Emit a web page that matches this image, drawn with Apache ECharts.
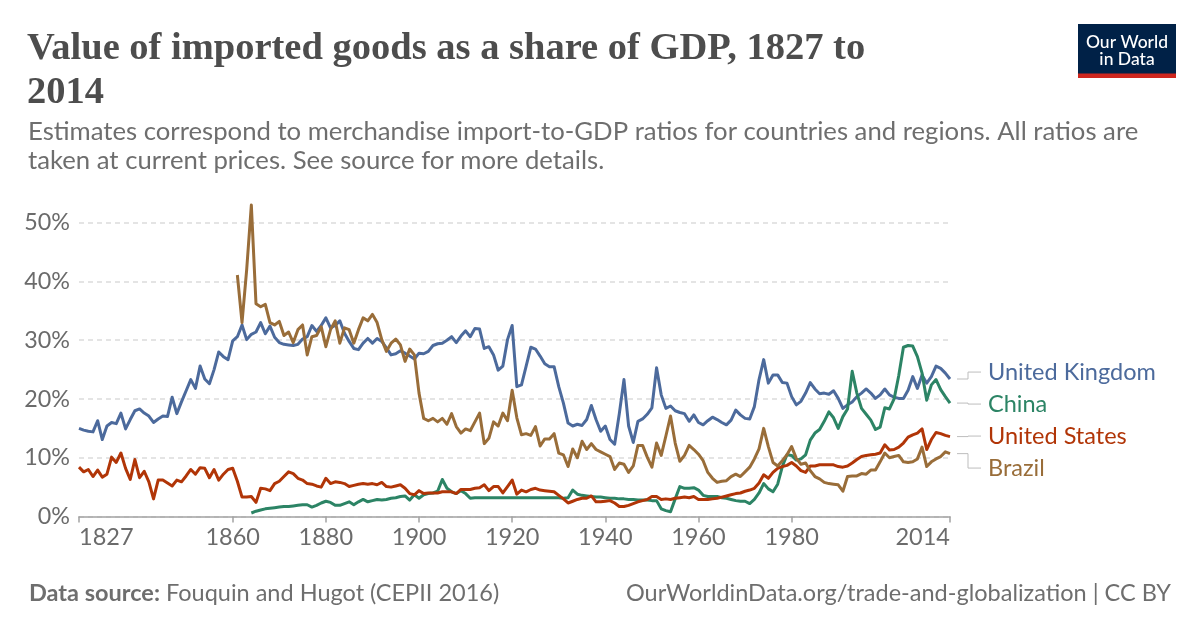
<!DOCTYPE html>
<html>
<head>
<meta charset="utf-8">
<script src="https://cdn.jsdelivr.net/npm/echarts@6/dist/echarts.min.js"></script>
<style>
html,body{margin:0;padding:0;background:#fff;}
#chart{width:1200px;height:628px;}
</style>
</head>
<body>
<div id="chart"></div>
<script>
// ---- data (percent of GDP) ----
var ukStart = 1827;
var ukValues = [
15.0,14.7,14.5,14.4,16.3,13.1,15.4,16.0,15.8,17.6,
14.9,16.5,18.0,18.3,17.6,17.1,16.0,16.6,17.1,17.0,
20.3,17.5,19.5,21.4,23.3,21.8,25.6,23.4,22.6,25.0,
28.0,27.2,26.7,29.9,30.6,32.6,30.1,31.0,31.4,33.0,
31.1,32.4,30.5,29.6,29.3,29.2,29.1,29.3,30.2,30.6,
32.5,31.5,32.5,33.8,32.1,32.5,33.3,31.2,29.8,28.6,
28.4,29.5,30.3,29.5,30.3,29.8,28.7,27.5,27.7,28.2,
27.8,27.3,26.8,27.8,27.7,28.1,29.1,29.4,29.5,30.0,
30.6,29.6,30.7,31.6,30.6,32.0,31.9,28.6,28.9,27.5,
24.9,25.6,30.1,32.5,22.1,22.4,25.6,28.8,28.5,27.3,
26.0,25.5,25.5,22.1,19.3,15.9,15.4,15.7,15.5,16.5,
18.9,16.5,14.5,15.4,13.1,12.3,17.5,23.3,15.4,12.6,
16.2,16.6,17.4,18.5,25.3,20.7,18.4,18.8,18.0,17.7,
17.5,16.2,17.3,16.0,15.6,16.3,16.9,16.5,16.0,15.6,
16.4,18.1,17.3,16.7,16.6,18.7,23.3,26.7,22.7,24.1,
24.1,22.8,22.7,20.4,19.0,19.6,21.0,22.8,21.7,20.9,
21.0,20.8,21.4,20.1,18.4,19.0,19.5,20.4,21.0,21.7,
21.0,20.1,20.7,21.7,20.7,20.3,20.1,20.1,21.5,23.8,
21.8,24.1,22.7,23.8,25.6,25.2,24.4,23.4
];
var usStart = 1827;
var usValues = [
8.4,7.6,8.0,6.8,7.9,6.7,7.2,10.1,9.2,10.8,
8.2,6.3,9.7,6.6,7.7,5.9,3.0,6.2,6.2,5.7,
5.2,6.2,5.9,6.9,8.0,7.2,8.3,8.2,6.6,8.0,
6.2,7.2,8.0,8.2,6.0,3.3,3.3,3.4,2.4,4.8,
4.7,4.4,5.6,6.0,6.8,7.6,7.3,6.5,6.2,5.6,
5.5,5.2,5.0,6.5,5.6,5.9,5.8,5.6,5.1,5.3,
5.5,5.6,5.5,5.6,5.4,5.8,5.1,5.0,5.2,5.4,
4.8,3.9,3.7,4.4,3.9,4.0,4.0,4.0,4.2,4.2,
4.2,3.9,4.6,4.6,4.6,4.8,4.9,5.4,4.4,5.1,
5.1,4.0,5.1,6.2,3.8,4.5,4.2,4.6,4.8,4.5,
4.4,4.3,4.2,3.6,3.0,2.3,2.6,2.9,3.1,3.1,
3.5,2.5,2.5,2.6,2.7,2.3,1.7,1.7,1.9,2.2,
2.5,2.7,2.9,3.4,3.4,2.9,3.0,2.9,3.1,3.2,
3.3,3.2,3.4,2.9,2.9,2.9,3.0,3.1,3.3,3.5,
3.7,3.9,4.0,4.3,4.5,4.8,5.7,7.1,6.5,7.5,
8.2,8.5,8.7,9.2,8.6,7.8,7.5,8.6,8.6,8.8,
8.8,8.8,8.8,8.5,8.4,8.6,9.1,9.7,10.2,10.4,
10.5,10.6,10.8,12.2,11.3,11.4,11.8,12.5,13.5,13.9,
14.2,14.9,11.4,13.1,14.3,14.1,13.8,13.6
];
var chinaStart = 1864;
var chinaValues = [
0.6,0.9,1.1,1.3,1.4,1.5,1.6,1.7,1.7,1.8,
1.9,2.0,2.0,1.6,1.9,2.3,2.6,2.4,1.9,1.9,
2.2,2.5,2.0,2.5,2.9,2.5,2.7,2.9,2.8,2.9,
3.1,3.2,3.4,3.5,2.8,3.7,3.1,3.7,3.9,4.0,
4.3,6.3,4.8,4.2,3.9,4.4,3.9,3.1,3.2,3.2,
3.2,3.2,3.2,3.2,3.2,3.2,3.2,3.2,3.2,3.2,
3.2,3.2,3.2,3.2,3.2,3.2,3.2,3.1,3.2,4.5,
3.8,3.6,3.5,3.4,3.3,3.3,3.2,3.1,3.1,3.0,
3.0,2.9,2.9,2.8,2.8,2.8,2.7,2.7,1.3,1.0,
0.8,3.0,5.1,4.8,4.8,4.9,4.5,3.6,3.4,3.4,
3.4,3.2,3.1,2.9,2.7,2.6,2.6,2.2,2.9,4.0,
5.6,4.7,4.2,5.5,8.5,10.5,10.4,9.6,9.8,10.5,
13.0,14.2,14.8,16.2,17.8,16.8,15.0,17.0,18.3,24.7,
21.0,18.4,17.4,16.4,14.8,15.2,18.5,18.3,20.0,24.0,
28.8,29.1,29.0,27.2,24.4,19.8,22.4,23.3,
21.6,20.4,19.3
];
var brazilStart = 1861;
var brazilValues = [
41.1,33.0,42.0,53.0,36.2,35.7,36.1,33.0,32.6,33.2,
30.8,31.4,29.6,31.8,32.6,27.5,30.6,30.8,32.3,28.9,
31.8,33.3,29.5,32.1,31.8,29.5,31.8,33.8,33.3,34.4,
33.0,30.1,28.1,29.5,30.2,29.2,26.4,28.5,27.5,21.0,
16.7,16.3,16.7,16.1,16.7,15.7,17.5,15.3,14.2,14.9,
14.6,16.1,17.6,12.4,13.3,16.1,15.4,17.6,16.3,21.5,
16.8,13.9,14.1,13.8,15.3,12.0,13.2,13.2,14.1,10.8,
10.5,8.5,11.5,10.0,12.8,11.4,12.4,11.4,11.0,10.6,
10.2,8.0,9.1,8.9,7.5,8.6,12.1,12.1,10.1,8.4,
12.5,10.4,13.7,17.1,12.5,9.4,10.4,12.1,11.4,10.6,
9.5,7.5,6.5,5.8,6.0,6.1,6.8,7.2,6.8,7.6,
8.4,9.8,11.5,15.0,11.9,9.2,8.6,9.5,10.5,11.9,
9.9,8.9,9.1,7.8,6.8,6.4,5.8,5.6,5.5,5.4,
4.3,6.8,6.9,6.9,7.3,7.2,7.9,7.9,9.3,10.8,
10.0,10.2,10.4,9.3,9.2,9.3,9.8,11.8,8.5,9.3,
9.8,10.2,11.0,10.7
];
var xTickYears = [1827, 1860, 1880, 1900, 1920, 1940, 1960, 1980, 2014];
var yTicks = [0, 10, 20, 30, 40, 50];

var seriesDefs = [
  {name: 'United Kingdom', start: ukStart, values: ukValues, color: '#4c6a9c'},
  {name: 'China', start: chinaStart, values: chinaValues, color: '#2c8465'},
  {name: 'United States', start: usStart, values: usValues, color: '#b13507'},
  {name: 'Brazil', start: brazilStart, values: brazilValues, color: '#996d39'}
];

function toPairs(start, vals) {
  return vals.map(function (v, i) { return [start + i, v]; });
}

var chart = echarts.init(document.getElementById('chart'), null, {renderer: 'canvas'});
var gridLeft = 79, gridRight = 250, gridTop = 222.7, gridBottom = 111.5;

var option = {
  animation: false,
  backgroundColor: '#ffffff',
  title: [
    {text: 'Value of imported goods as a share of GDP, 1827 to\n2014', left: 22, top: 22,
     textStyle: {fontFamily: 'Liberation Serif', fontWeight: 'bold', fontSize: 38.5, color: '#4d4d4d', lineHeight: 44}},
    {text: 'Estimates correspond to merchandise import-to-GDP ratios for countries and regions. All ratios are\ntaken at current prices. See source for more details.',
     left: 23, top: 112,
     textStyle: {fontFamily: 'Lato', fontWeight: 'normal', fontSize: 25.7, color: '#6e6e6e', lineHeight: 29}},
    {text: '{b|Data source:} Fouquin and Hugot (CEPII 2016)', left: 24, top: 576,
     textStyle: {fontFamily: 'Lato', fontWeight: 'normal', fontSize: 23.5, color: '#6e6e6e',
       rich: {b: {fontFamily: 'Lato', fontWeight: 'bold', fontSize: 23.5, color: '#6e6e6e'}}}},
    {text: 'OurWorldinData.org/trade-and-globalization | CC BY', right: 24, top: 576,
     textStyle: {fontFamily: 'Lato', fontWeight: 'normal', fontSize: 23.5, color: '#6e6e6e'}}
  ],
  grid: {left: gridLeft, right: gridRight, top: gridTop, bottom: gridBottom, containLabel: false},
  xAxis: {
    type: 'value', min: 1827, max: 2014,
    axisLine: {show: true, lineStyle: {color: '#a3a3a3', width: 1.5}},
    axisTick: {show: true, customValues: xTickYears, length: 6, lineStyle: {color: '#a3a3a3', width: 1.5}},
    axisLabel: {customValues: xTickYears, color: '#6b6b6b', fontFamily: 'Lato', fontSize: 23.5, margin: 9,
      alignMinLabel: 'left', alignMaxLabel: 'right', formatter: function (v) { return String(v); }},
    splitLine: {show: false}
  },
  yAxis: {
    type: 'value', min: 0, max: 50, interval: 10,
    axisLine: {show: false}, axisTick: {show: false},
    axisLabel: {color: '#6b6b6b', fontFamily: 'Lato', fontSize: 23.3, margin: 9,
      customValues: yTicks, formatter: function (v) { return v + '%'; }},
    splitLine: {show: true, lineStyle: {color: '#dcdcdc', width: 1.5, type: [5, 4]}}
  },
  series: seriesDefs.map(function (s) {
    return {
      name: s.name, type: 'line', data: toPairs(s.start, s.values),
      showSymbol: false, symbol: 'none', clip: false, smooth: false,
      lineStyle: {color: s.color, width: 3, join: 'round'},
      itemStyle: {color: s.color},
      emphasis: {disabled: true}, silent: true
    };
  })
};
chart.setOption(option);

// end labels with connectors, placed from the data's last points
var ends = seriesDefs.map(function (s) {
  var last = [s.start + s.values.length - 1, s.values[s.values.length - 1]];
  var p = chart.convertToPixel({gridIndex: 0}, last);
  return {name: s.name, color: s.color, x: p[0], y: p[1]};
});
ends.sort(function (a, b) { return a.y - b.y; });
var meanY = ends.reduce(function (acc, e) { return acc + e.y; }, 0) / ends.length;
var gap = 32;
ends.forEach(function (e, i) { e.ly = meanY + (i - (ends.length - 1) / 2) * gap + 2; });

var graphics = [];
ends.forEach(function (e) {
  var x0 = e.x + 7, xm = e.x + 18, x1 = e.x + 31;
  graphics.push({type: 'polyline', silent: true,
    shape: {points: [[x0, e.y], [xm, e.y], [xm, e.ly], [x1, e.ly]]},
    style: {stroke: '#bdbdbd', lineWidth: 1, fill: null}});
  graphics.push({type: 'text', silent: true, x: e.x + 38, y: e.ly,
    style: {text: e.name, fill: e.color, font: '23.5px Lato', textVerticalAlign: 'middle', verticalAlign: 'middle'}});
});
// logo
graphics.push({type: 'rect', silent: true, shape: {x: 1078, y: 24, width: 98, height: 54}, style: {fill: '#002147'}});
graphics.push({type: 'rect', silent: true, shape: {x: 1078, y: 73.5, width: 98, height: 4.5}, style: {fill: '#ce261e'}});
graphics.push({type: 'text', silent: true, x: 1127, y: 42, style: {text: 'Our World', fill: '#ffffff', font: '500 17.5px Lato', align: 'center', textAlign: 'center', verticalAlign: 'middle', textVerticalAlign: 'middle'}});
graphics.push({type: 'text', silent: true, x: 1127, y: 59.5, style: {text: 'in Data', fill: '#ffffff', font: '500 17.5px Lato', align: 'center', textAlign: 'center', verticalAlign: 'middle', textVerticalAlign: 'middle'}});
chart.setOption({graphic: graphics});
</script>
</body>
</html>
